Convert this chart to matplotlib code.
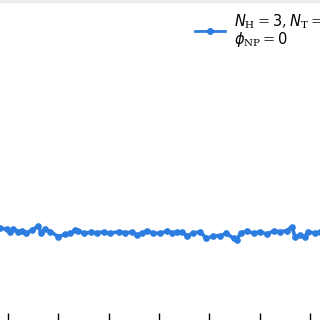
import matplotlib
matplotlib.use("Agg")
import matplotlib.pyplot as plt
from matplotlib.patches import Rectangle

# data
steps = [-8, -1, 2, 5, 10, 14, 18, 24, 30, 33, 37, 42, 50, 57, 62, 67, 70, 75,
         82, 88, 95, 101, 110, 116, 123, 128, 133, 138, 144, 151, 158, 163, 168,
         173, 178, 184, 191, 197, 204, 211, 217, 224, 227, 231, 237, 244, 250,
         257, 264, 270, 277, 282, 285, 290, 295, 298, 305, 310]
values = [0.573, 0.567, 0.552, 0.571, 0.552, 0.558, 0.542, 0.5625, 0.5875, 0.542,
          0.567, 0.552, 0.521, 0.535, 0.542, 0.5625, 0.558, 0.542, 0.548, 0.546,
          0.550, 0.542, 0.552, 0.546, 0.548, 0.531, 0.542, 0.558, 0.542, 0.542,
          0.556, 0.542, 0.552, 0.548, 0.527, 0.542, 0.552, 0.510, 0.525, 0.527,
          0.542, 0.510, 0.500, 0.542, 0.556, 0.542, 0.552, 0.5375, 0.556, 0.552,
          0.558, 0.583, 0.521, 0.531, 0.521, 0.552, 0.542, 0.552]
xticks = [0, 50, 100, 150, 200, 250, 300]
label = ("$N_\\mathrm{H}=\\mathsf{3}, N_\\mathrm{T}=\\mathsf{5}$\n"
         "$\\phi_\\mathrm{NP}=\\mathsf{0}$")

plt.rcParams['mathtext.fontset'] = 'custom'
plt.rcParams['mathtext.rm'] = 'DejaVu Serif'
plt.rcParams['mathtext.it'] = 'DejaVu Sans:italic'
plt.rcParams['mathtext.sf'] = 'DejaVu Sans'

fig = plt.figure(figsize=(3.2, 3.2), dpi=100)
ax = fig.add_axes([0, 0, 1, 1.2])
ax.plot(steps, values, color='#2d7de0', lw=2.6, marker='o', ms=3.8,
        label=label, solid_joinstyle='round')
ax.set_xlim(-7.95, 309.9)
ax.set_ylim(0, 2.4)
ax.set_xticks(xticks)
ax.tick_params(axis='x', direction='in', length=5, width=1, labelbottom=False)
ax.set_yticks([])
for s in ax.spines.values():
    s.set_visible(False)

leg = fig.legend(loc='upper left', bbox_to_anchor=(0.609, 0.963), frameon=False,
                 fontsize=10.5, borderpad=0, borderaxespad=0, handlelength=2.05,
                 handletextpad=0.62)
for t in leg.get_texts():
    t.set_linespacing(0.95)
for h in leg.legend_handles:
    h.set_linewidth(2.0)
    h.set_markersize(4)
fig.patches.append(Rectangle((0, 1 - 2/320), 1, 2/320, transform=fig.transFigure,
                             color='#ececec', zorder=0))
fig.savefig('out.png', dpi=100)
